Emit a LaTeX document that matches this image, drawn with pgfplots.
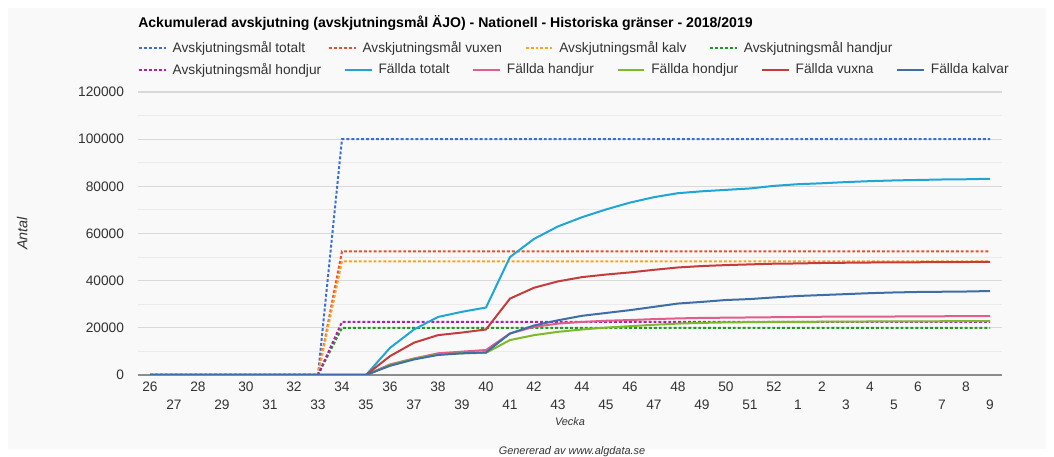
\documentclass[border=0pt]{standalone}
\usepackage{fontspec}
\setmainfont{Liberation Sans}
\usepackage{pgfplots}
\pgfplotsset{compat=1.18}
\usepackage{pgfplotstable}

\definecolor{panel}{HTML}{F9F9F9}
\definecolor{gridmaj}{HTML}{D9D9D9}
\definecolor{gridmin}{HTML}{EBEBEB}
\definecolor{axisc}{HTML}{8C8C8C}
\definecolor{textc}{HTML}{333333}
\definecolor{tTot}{HTML}{3A6FD8}
\definecolor{tVux}{HTML}{E8502F}
\definecolor{tKalv}{HTML}{FFA31A}
\definecolor{tHand}{HTML}{1E9E1E}
\definecolor{tHond}{HTML}{B01EB0}
\definecolor{fTot}{HTML}{20A6D4}
\definecolor{fHand}{HTML}{E35D8A}
\definecolor{fHond}{HTML}{7DBA2A}
\definecolor{fVux}{HTML}{C43C3C}
\definecolor{fKalv}{HTML}{3D6EA8}

\newcommand{\fs}{\fontsize{10.3}{12}\selectfont}

% Fallda (accumulated), x = category index (0 = week 26 ... 35 = week 9)
\pgfplotstableread{
x tot hand hond vux kalv
0 0 0 0 0 0
1 0 0 0 0 0
2 0 0 0 0 0
3 0 0 0 0 0
4 0 0 0 0 0
5 0 0 0 0 0
6 0 0 0 0 0
7 0 0 0 0 0
8 0 0 0 0 0
9 0 0 0 0 0
10 11500 4500 4200 8000 3900
11 19300 7000 6900 13700 6600
12 24600 9200 8700 16900 8500
13 26800 9900 9200 18000 9200
14 28600 10600 9400 19300 9600
15 50000 17600 14800 32400 17600
16 57700 20400 16900 37000 21000
17 63000 21800 18300 39700 23200
18 66900 22500 19300 41500 25100
19 70200 23000 20100 42600 26300
20 73100 23300 20700 43500 27500
21 75400 23700 21300 44600 28900
22 77100 24000 21800 45600 30300
23 77900 24200 22100 46200 31000
24 78500 24300 22300 46600 31800
25 79100 24400 22400 46900 32200
26 80200 24500 22500 47200 32900
27 80900 24600 22500 47300 33500
28 81300 24700 22600 47500 33900
29 81800 24700 22600 47600 34300
30 82200 24800 22700 47700 34700
31 82500 24800 22700 47800 35000
32 82700 24900 22700 47800 35200
33 82900 24900 22800 47900 35300
34 83000 25000 22800 47900 35400
35 83200 25000 22800 48000 35600
}\falld

\pgfplotsset{
  common/.style={
    scale only axis, width=648pt, height=212.25pt,
    at={(103.5pt,61.5pt)}, anchor=south west,
    xmin=-0.5, xmax=35.5, ymin=0, ymax=120000,
    legend image code/.code={\draw[##1] (0pt,0pt) -- (20pt,0pt);},
    legend columns=-1,
    legend style={draw=none, fill=none, inner sep=0pt, outer sep=0pt,
      font=\fs, text=textc, anchor=west,
      nodes={inner sep=0pt},
      column sep=0pt,
      /tikz/every odd column/.append style={column sep=4.5pt},
      /tikz/every even column/.append style={column sep=17pt}},
  },
  target/.style={line width=1.5pt, dash pattern=on 2.2pt off 1.5pt},
  fall/.style={line width=1.5pt, line join=round},
}

\begin{document}
\begin{tikzpicture}
\useasboundingbox (0pt,0pt) rectangle (790.5pt,342.75pt);
\fill[white] (0pt,0pt) rectangle (790.5pt,342.75pt);
\fill[panel] (6pt,6pt) rectangle (784.5pt,336.75pt);

\begin{axis}[common,
  axis x line*=bottom, axis y line*=left,
  x axis line style={draw=axisc, line width=0.8pt, -},
  y axis line style={draw=none},
  major tick length=0pt, minor tick length=0pt,
  ymajorgrids, yminorgrids, minor y tick num=1,
  major grid style={gridmaj, line width=0.8pt},
  minor grid style={gridmin, line width=0.8pt},
  ytick={0,20000,40000,60000,80000,100000,120000},
  yticklabels={0,20000,40000,60000,80000,100000,120000},
  scaled y ticks=false,
  yticklabel style={font=\fs, text=textc, xshift=-7pt},
  xtick={0,2,...,34},
  xticklabels={26,28,30,32,34,36,38,40,42,44,46,48,50,52,2,4,6,8},
  xticklabel style={font=\fs, text=textc, yshift=-2pt},
  extra x ticks={1,3,...,35},
  extra x tick labels={27,29,31,33,35,37,39,41,43,45,47,49,51,1,3,5,7,9},
  extra x tick style={grid=none, major tick length=0pt, tick label style={yshift=-13.5pt}},
  xlabel={Vecka},
  xlabel style={at={(axis description cs:0.5,-0.166)}, anchor=center,
     font=\itshape\fontsize{8.2}{10}\selectfont, text=textc},
  ylabel={Antal},
  ylabel style={at={(axis description cs:-0.134,0.5)}, anchor=center,
     font=\itshape\fontsize{10.8}{12}\selectfont, text=textc},
  title={Ackumulerad avskjutning (avskjutningsmål ÄJO) - Nationell - Historiska gränser - 2018/2019},
  title style={at={(axis description cs:0,1.215)}, anchor=west, inner sep=0pt,
     font=\bfseries\fontsize{10.55}{12}\selectfont, text=black},
  legend style={at={(axis description cs:0,1.1555)}},
]
\addplot[target, tTot] coordinates {(0,0) (7,0) (8,100000) (35,100000)};
\addlegendentry{Avskjutningsmål totalt}
\addplot[target, tVux] coordinates {(0,0) (7,0) (8,52400) (35,52400)};
\addlegendentry{Avskjutningsmål vuxen}
\addplot[target, tKalv] coordinates {(0,0) (7,0) (8,48200) (35,48200)};
\addlegendentry{Avskjutningsmål kalv}
\addplot[target, tHand] coordinates {(0,0) (7,0) (8,20000) (35,20000)};
\addlegendentry{Avskjutningsmål handjur}
\end{axis}

\begin{axis}[common, hide axis,
  legend style={at={(axis description cs:0,1.0777)}},
]
\addplot[target, tHond] coordinates {(0,0) (7,0) (8,22500) (35,22500)};
\addlegendentry{Avskjutningsmål hondjur}
\addplot[fall, fTot] table[x=x, y=tot] {\falld};
\addlegendentry{Fällda totalt}
\addplot[fall, fHand] table[x=x, y=hand] {\falld};
\addlegendentry{Fällda handjur}
\addplot[fall, fHond] table[x=x, y=hond] {\falld};
\addlegendentry{Fällda hondjur}
\addplot[fall, fVux] table[x=x, y=vux] {\falld};
\addlegendentry{Fällda vuxna}
\addplot[fall, fKalv] table[x=x, y=kalv] {\falld};
\addlegendentry{Fällda kalvar}
\end{axis}

\node[font=\itshape\fontsize{8.2}{10}\selectfont, text=textc] at (429pt,4pt) {Genererad av www.algdata.se};
\end{tikzpicture}
\end{document}
